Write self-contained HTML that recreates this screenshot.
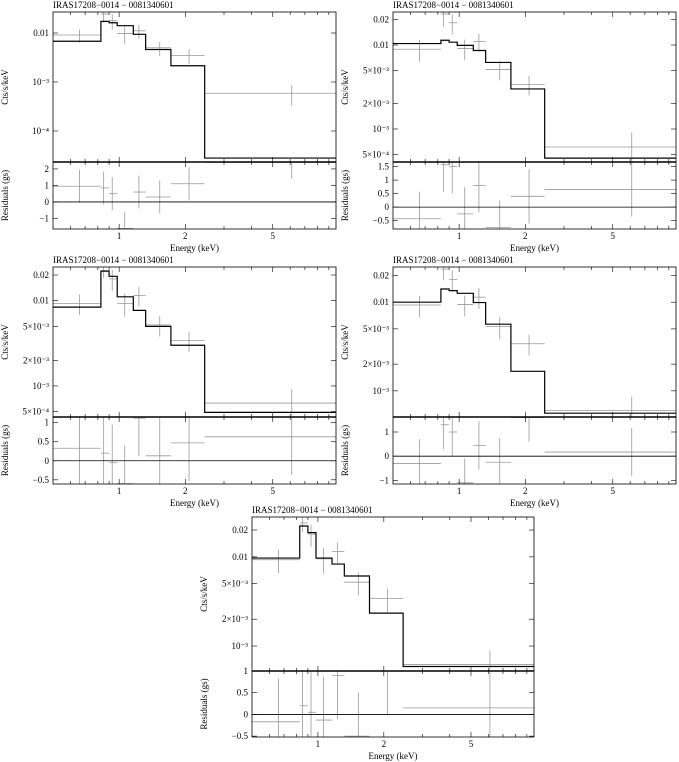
<!DOCTYPE html>
<html><head><meta charset="utf-8"><style>
html,body{margin:0;padding:0;background:#fff}
svg{display:block;font-family:"Liberation Serif",serif}
</style></head><body>
<svg id="fig" width="679" height="762" viewBox="0 0 679 762"></svg>
<script>
// Shared energy bins (keV)
const binEdges = [0.5,0.826,0.9,0.98,1.16,1.32,1.72,2.45,10];
const binCenters = [0.66,0.85,0.93,1.06,1.23,1.53,2.08,6.1];
const xTickValues = [1,2,5];
const xTickLabels = ['1','2','5'];

// Panel 1
const p1Model = [0.0068,0.0173,0.0162,0.0141,0.0094,0.0046,0.00215,2.8e-5];
const p1Data  = [0.0091,0.0244,0.0178,0.0098,0.0111,0.0050,0.0035,5.9e-4];
const p1Sigma = [0.0027,0.008,0.006,0.0038,0.0035,0.0016,0.0012,2.6e-4];
const p1Resid = [0.95,0.85,0.5,-1.6,0.6,0.3,1.1,2.4];
// Panel 2
const p2Model = [0.0104,0.0114,0.0108,0.0099,0.0086,0.0062,0.0030,4.5e-4];
const p2Data  = [0.0089,0.0234,0.0184,0.0091,0.0110,0.0051,0.0034,6.1e-4];
const p2Sigma = [0.0026,0.007,0.005,0.0025,0.0026,0.0013,0.0009,3e-4];
const p2Resid = [-0.43,1.57,1.5,-0.25,0.8,-0.75,0.4,0.65];
// Panel 3
const p3Model = [0.0084,0.0222,0.0193,0.0111,0.0077,0.0050,0.0030,4.9e-4];
const p3Data  = [0.0093,0.0225,0.018,0.0093,0.0115,0.0052,0.0034,6.3e-4];
const p3Sigma = [0.0025,0.004,0.005,0.0028,0.003,0.0014,0.0009,2.8e-4];
const p3Resid = [0.33,0.2,-0.05,-0.6,1.12,0.13,0.47,0.63];
// Panel 4
const p4Model = [0.0100,0.0141,0.0135,0.0126,0.0099,0.00565,0.00166,5.6e-4];
const p4Data  = [0.0093,0.0236,0.018,0.0094,0.0114,0.0053,0.0034,6.0e-4];
const p4Sigma = [0.0025,0.006,0.005,0.0025,0.003,0.0015,0.0009,2.6e-4];
const p4Resid = [-0.3,1.3,1.0,-1.1,0.45,-0.25,1.6,0.17];
// Panel 5
const p5Model = [0.0097,0.0222,0.0187,0.0097,0.0083,0.0061,0.00234,5.9e-4];
const p5Data  = [0.0093,0.024,0.018,0.0095,0.0115,0.0052,0.0034,6.2e-4];
const p5Sigma = [0.0027,0.005,0.005,0.003,0.003,0.0015,0.001,2.7e-4];
const p5Resid = [-0.17,0.2,0.05,-0.13,0.9,-0.5,1.0,0.15];

const yTicksA = [[0.01,'0.01'],[1e-3,'10⁻³'],[1e-4,'10⁻⁴']];
const yTicksB = [[0.02,'0.02'],[0.01,'0.01'],[5e-3,'5×10⁻³'],[2e-3,'2×10⁻³'],[1e-3,'10⁻³'],[5e-4,'5×10⁻⁴']];

const NS='http://www.w3.org/2000/svg';
const svg=document.getElementById('fig');
function mk(tag,attrs,parent){const e=document.createElementNS(NS,tag);for(const k in attrs)e.setAttribute(k,attrs[k]);(parent||svg).appendChild(e);return e;}

function drawPanel(id,g,model,data,sigma,resid,yTicks,rTicks){
  const grp=mk('g',{});
  
  
  const W=g.right-g.left;
  const X=e=>g.left+Math.log10(e/0.5)/Math.log10(9.7/0.5)*W;
  const Y=v=>g.top+(g.logTop-Math.log10(v))/(g.logTop-g.logBot)*(g.mid-g.top);
  const R=r=>g.mid+(g.rTop-r)/(g.rTop-g.rBot)*(g.bot-g.mid);
  const clipId='c'+id, clipR='r'+id;
  const cp=mk('clipPath',{id:clipId},grp);mk('rect',{x:g.left,y:g.top,width:W,height:g.mid-g.top},cp);
  const cr=mk('clipPath',{id:clipR},grp);mk('rect',{x:g.left,y:g.mid,width:W,height:g.bot-g.mid},cr);
  const t=mk('text',{x:g.left,y:g.top-4,'font-size':9},grp);t.textContent='IRAS17208−0014 − 0081340601';
  
  
  const dg=mk('g',{'clip-path':'url(#'+clipId+')',stroke:'#999','stroke-width':0.8},grp);
  
  
  for(let i=0;i<data.length;i++){
    const y=Y(data[i]);const x=X(binCenters[i]);
    mk('line',{x1:X(binEdges[i]),x2:Math.min(X(binEdges[i+1]),g.right),y1:y,y2:y},dg);
    const lo=Math.max(data[i]-sigma[i],1e-7);
    mk('line',{x1:x,x2:x,y1:Y(data[i]+sigma[i]),y2:Y(lo)},dg);
  }
  let d='';
  for(let i=0;i<model.length;i++){
    const y=Y(model[i]);
    d+=(i===0?'M':'L')+X(binEdges[i])+','+y+'L'+Math.min(X(binEdges[i+1]),g.right)+','+y;
  }
  const mp=mk('path',{d:d,fill:'none',stroke:'#000','stroke-width':1.2,'clip-path':'url(#'+clipId+')'},grp);
  
  
  const rg=mk('g',{'clip-path':'url(#'+clipR+')',stroke:'#999','stroke-width':0.8},grp);
  
  
  for(let i=0;i<resid.length;i++){
    const y=R(resid[i]);const x=X(binCenters[i]);
    mk('line',{x1:X(binEdges[i]),x2:Math.min(X(binEdges[i+1]),g.right),y1:y,y2:y},rg);
    mk('line',{x1:x,x2:x,y1:R(resid[i]+1),y2:R(resid[i]-1)},rg);
  }
  mk('line',{x1:g.left,x2:g.right,y1:R(0),y2:R(0),stroke:'#000','stroke-width':0.8},grp);
  mk('rect',{x:g.left,y:g.top,width:W,height:g.bot-g.top,fill:'none',stroke:'#000','stroke-width':0.8},grp);
  mk('line',{x1:g.left,x2:g.right,y1:g.mid,y2:g.mid,stroke:'#000','stroke-width':1.4},grp);
  const tk=mk('g',{stroke:'#000','stroke-width':0.6},grp);
  const minors=[0.6,0.7,0.8,0.9,1,2,3,4,5,6,7,8,9];
  for(const m of minors){
    const x=X(m);const major=(m===1||m===2||m===5);const L=major?5:3;
    mk('line',{x1:x,x2:x,y1:g.bot,y2:g.bot-L},tk);mk('line',{x1:x,x2:x,y1:g.mid,y2:g.mid-L},tk);
    mk('line',{x1:x,x2:x,y1:g.mid,y2:g.mid+L},tk);mk('line',{x1:x,x2:x,y1:g.top,y2:g.top+L},tk);
  }
  for(let i=0;i<xTickValues.length;i++){
    const tx=mk('text',{x:X(xTickValues[i]),y:g.bot+10,'font-size':9,'text-anchor':'middle'},grp);tx.textContent=xTickLabels[i];
    
    
  }
  for(const [v,lab] of yTicks){
    const y=Y(v); if(y<g.top-1||y>g.mid-2) continue;
    mk('line',{x1:g.left,x2:g.left+5,y1:y,y2:y},tk);mk('line',{x1:g.right,x2:g.right-5,y1:y,y2:y},tk);
    const ty=mk('text',{x:g.left-4,y:y+3,'font-size':9,'text-anchor':'end'},grp);ty.textContent=lab;
    
    
  }
  for(const r of rTicks){
    const y=R(r);
    mk('line',{x1:g.left,x2:g.left+5,y1:y,y2:y},tk);mk('line',{x1:g.right,x2:g.right-5,y1:y,y2:y},tk);
    const ty=mk('text',{x:g.left-4,y:y+3,'font-size':9,'text-anchor':'end'},grp);ty.textContent=(r<0?'−'+(-r):String(r));
    
    
  }
  const yl=mk('text',{x:0,y:0,'font-size':9,'text-anchor':'middle',transform:'translate('+(g.left-45)+','+((g.top+g.mid)/2)+') rotate(-90)'},grp);
  yl.textContent='Cts/s/keV';
  
  
  const rl=mk('text',{x:0,y:0,'font-size':9,'text-anchor':'middle',transform:'translate('+(g.left-45)+','+((g.mid+g.bot)/2)+') rotate(-90)'},grp);
  rl.textContent='Residuals (gs)';
  
  
  const xl=mk('text',{x:(g.left+g.right)/2,y:g.bot+22,'font-size':9,'text-anchor':'middle'},grp);
  xl.textContent='Energy (keV)';
  
  
}

drawPanel(1,{left:53,right:336,top:12,mid:162,bot:229,logTop:-1.571,logBot:-4.633,rTop:2.42,rBot:-1.64},p1Model,p1Data,p1Sigma,p1Resid,yTicksA,[2,1,0,-1]);
drawPanel(2,{left:393,right:676,top:12,mid:162,bot:229,logTop:-1.607,logBot:-3.393,rTop:1.67,rBot:-0.81},p2Model,p2Data,p2Sigma,p2Resid,yTicksB,[1.5,1,0.5,0,-0.5]);
drawPanel(3,{left:53,right:336,top:267,mid:417,bot:484,logTop:-1.605,logBot:-3.364,rTop:1.15,rBot:-0.61},p3Model,p3Data,p3Sigma,p3Resid,yTicksB,[1,0.5,0,-0.5]);
drawPanel(4,{left:393,right:676,top:267,mid:417,bot:484,logTop:-1.603,logBot:-3.295,rTop:1.62,rBot:-1.15},p4Model,p4Data,p4Sigma,p4Resid,yTicksB,[1,0,-1]);
drawPanel(5,{left:252,right:534,top:517,mid:671,bot:737,logTop:-1.553,logBot:-3.28,rTop:1.0,rBot:-0.52},p5Model,p5Data,p5Sigma,p5Resid,yTicksB,[1,0.5,0,-0.5]);
</script>
</body></html>
